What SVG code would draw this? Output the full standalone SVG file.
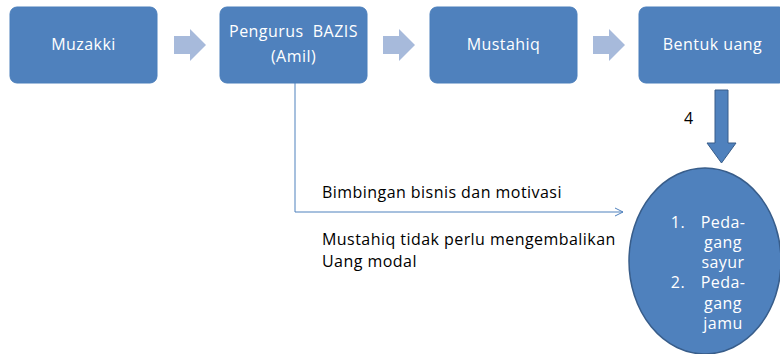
<svg xmlns="http://www.w3.org/2000/svg" width="780" height="354" viewBox="0 0 780 354">
<defs>
<style>
.box{fill:#4F81BD;stroke:#4A7EBB;stroke-width:1}
.bt{font-family:"Open Sans",sans-serif;font-size:16px;letter-spacing:0.45px;fill:#FFFFFF;text-anchor:middle}
.lbl{font-family:"Open Sans",sans-serif;font-size:16px;letter-spacing:0.45px;fill:#000000}
.blk{fill:#A7BADB}
.con{fill:none;stroke:#4F81BD;stroke-width:1}
</style>
<marker id="open" viewBox="0 0 10 10" refX="9" refY="5" markerWidth="10" markerHeight="10" markerUnits="userSpaceOnUse" orient="auto">
<path d="M1,1 L9,5 L1,9" fill="none" stroke="#4F81BD" stroke-width="1"/>
</marker>
</defs>
<rect width="780" height="354" fill="#FFFFFF"/>
<g id="connectors">
<path class="blk" d="M174,36 H190 V29 L206,45 L190,61 V54 H174 Z"/>
<path class="blk" d="M383,36 H399 V29 L415,45 L399,61 V54 H383 Z"/>
<path class="blk" d="M593,36 H609 V29 L625,45 L609,61 V54 H593 Z"/>
<path d="M715,90 H728 V143 H736 L721.5,163 L707,143 H715 Z" fill="#4F81BD" stroke="#385D8A" stroke-width="1"/>
<text class="lbl" x="684" y="124">4</text>
<path class="con" d="M295,83 V212 H623" marker-end="url(#open)"/>
<text class="lbl" x="322" y="198">Bimbingan bisnis dan motivasi</text>
<text class="lbl" x="322" y="245">Mustahiq tidak perlu mengembalikan</text>
<text class="lbl" x="322" y="267">Uang modal</text>
</g>
<g id="muzakki">
<rect class="box" x="10" y="7" width="147" height="76" rx="7"/>
<text class="bt" x="83.5" y="50">Muzakki</text>
</g>
<g id="pengurus">
<rect class="box" x="220" y="7" width="147" height="76" rx="7"/>
<text class="bt" x="293.5" y="37" xml:space="preserve">Pengurus  BAZIS</text>
<text class="bt" x="293.5" y="62">(Amil)</text>
</g>
<g id="mustahiq">
<rect class="box" x="430" y="7" width="147" height="76" rx="7"/>
<text class="bt" x="503.5" y="50">Mustahiq</text>
</g>
<g id="bentuk">
<rect class="box" x="639" y="7" width="147" height="76" rx="7"/>
<text class="bt" x="712.5" y="50">Bentuk uang</text>
</g>
<g id="pedagang">
<ellipse cx="705" cy="261" rx="76" ry="93" fill="#4F81BD" stroke="#385D8A" stroke-width="1.5"/>
<text class="bt" x="678" y="228">1.</text>
<text class="bt" x="723" y="228">Peda-</text>
<text class="bt" x="723" y="248">gang</text>
<text class="bt" x="723" y="268">sayur</text>
<text class="bt" x="678" y="288">2.</text>
<text class="bt" x="723" y="288">Peda-</text>
<text class="bt" x="723" y="309">gang</text>
<text class="bt" x="723" y="329">jamu</text>
</g>
</svg>
